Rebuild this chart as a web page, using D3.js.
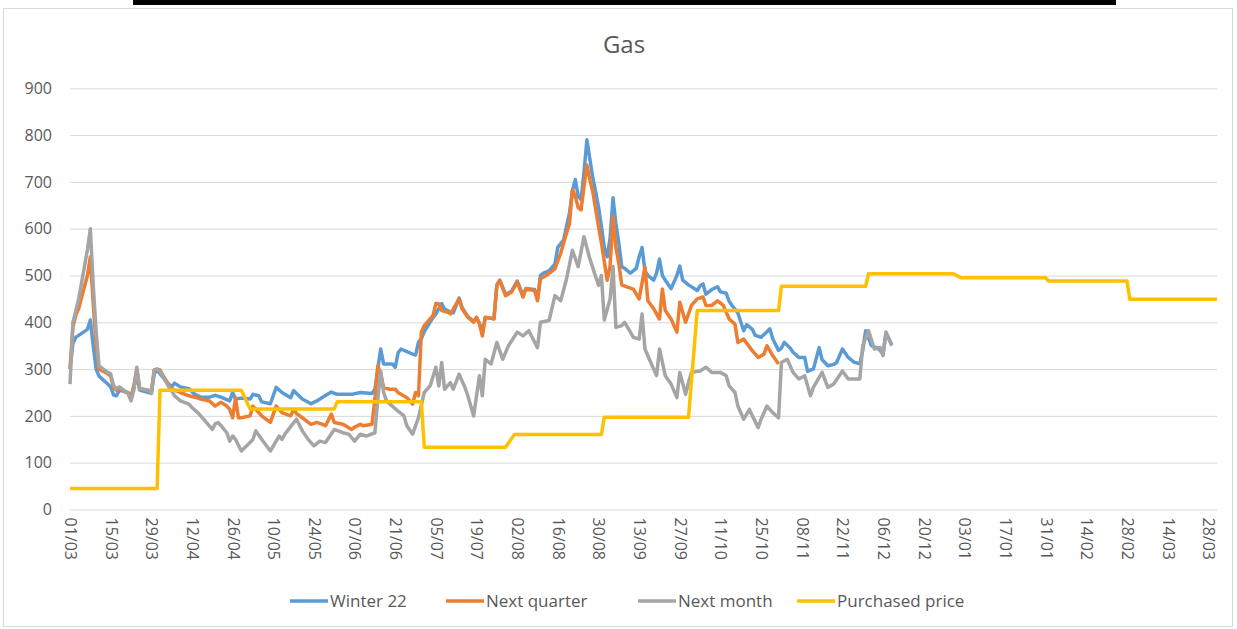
<!DOCTYPE html>
<html>
<head>
<meta charset="utf-8">
<script src="https://cdn.jsdelivr.net/npm/d3@7"></script>
<style>
  body { margin: 0; background: #fff; }
  text { font-family: "Open Sans", "Liberation Sans", sans-serif; fill: #595959; }
</style>
</head>
<body>
<div id="chart"></div>
<script>
// values, dates are dd/mm in 2022
const winter22 = [
  ["01/03",300],["02/03",355],["03/03",368],["04/03",372],["07/03",385],["08/03",405],["09/03",350],["10/03",300],["11/03",285],
  ["14/03",268],["15/03",262],["16/03",245],["17/03",243],["18/03",255],["21/03",250],["22/03",240],["23/03",262],["24/03",285],
  ["25/03",255],["28/03",250],["29/03",248],["30/03",290],["31/03",298],["01/04",290],["04/04",268],["05/04",262],["06/04",270],
  ["08/04",262],["11/04",258],["13/04",246],["15/04",240],["18/04",240],["20/04",244],["22/04",240],["25/04",232],["26/04",250],
  ["27/04",236],["29/04",238],["02/05",236],["03/05",246],["05/05",243],["06/05",230],["09/05",226],["11/05",261],["13/05",250],
  ["16/05",239],["17/05",254],["18/05",248],["20/05",236],["23/05",226],["25/05",232],["27/05",240],["30/05",251],["01/06",246],
  ["03/06",246],["06/06",246],["09/06",250],["13/06",248],["14/06",257],["15/06",300],["16/06",343],["17/06",311],["20/06",311],
  ["21/06",304],["22/06",335],["23/06",343],["27/06",332],["28/06",330],["29/06",357],["30/06",365],["01/07",380],["04/07",410],
  ["05/07",418],["07/07",440],["08/07",428],["10/07",422],["11/07",420],["13/07",452],["14/07",432],["16/07",412],["18/07",402],
  ["19/07",410],["20/07",398],["21/07",378],["22/07",410],["25/07",408],["26/07",480],["27/07",490],["29/07",460],["31/07",466],
  ["02/08",488],["04/08",458],["05/08",472],["08/08",470],["09/08",450],["10/08",500],["11/08",505],["13/08",510],["15/08",525],
  ["16/08",560],["17/08",568],["18/08",576],["19/08",605],["20/08",633],["21/08",680],["22/08",705],["23/08",670],["24/08",662],
  ["25/08",720],["26/08",790],["27/08",750],["28/08",710],["29/08",680],["30/08",647],["31/08",605],["01/09",560],["02/09",540],
  ["03/09",580],["04/09",666],["05/09",610],["06/09",569],["07/09",519],["08/09",515],["10/09",505],["12/09",515],["13/09",540],
  ["14/09",560],["15/09",510],["16/09",500],["18/09",490],["19/09",505],["20/09",535],["21/09",500],["22/09",490],["24/09",472],
  ["26/09",500],["27/09",520],["28/09",490],["30/09",480],["03/10",468],["04/10",478],["05/10",482],["06/10",460],["08/10",470],
  ["10/10",476],["11/10",465],["13/10",462],["14/10",445],["15/10",436],["17/10",420],["19/10",382],["20/10",395],["22/10",385],
  ["23/10",372],["25/10",368],["27/10",380],["28/10",386],["29/10",365],["31/10",340],["01/11",345],["02/11",357],["04/11",345],
  ["05/11",336],["07/11",325],["09/11",325],["10/11",295],["11/11",298],["12/11",300],["14/11",346],["15/11",320],["17/11",307],
  ["19/11",310],["20/11",314],["22/11",343],["24/11",325],["26/11",315],["28/11",311],["29/11",340],["30/11",382],["02/12",350],
  ["04/12",345],["05/12",340],["06/12",332],["07/12",378],["09/12",352]
];

const nextQuarter = [
  ["01/03",300],["02/03",390],["03/03",415],["04/03",430],["07/03",500],["08/03",540],["09/03",440],["10/03",350],["11/03",300],
  ["14/03",290],["15/03",285],["16/03",260],["17/03",255],["18/03",258],["21/03",248],["22/03",240],["23/03",265],["24/03",300],
  ["25/03",258],["28/03",255],["29/03",250],["30/03",298],["31/03",300],["01/04",298],["04/04",266],["05/04",258],["06/04",255],
  ["08/04",250],["11/04",243],["13/04",240],["15/04",236],["18/04",232],["20/04",221],["22/04",229],["24/04",221],["25/04",214],
  ["26/04",196],["27/04",239],["28/04",196],["29/04",196],["02/05",200],["03/05",221],["05/05",207],["06/05",200],["09/05",186],
  ["11/05",221],["13/05",207],["16/05",200],["17/05",214],["18/05",205],["20/05",196],["23/05",182],["25/05",186],["27/05",182],
  ["28/05",179],["30/05",204],["31/05",186],["03/06",182],["06/06",171],["07/06",176],["09/06",182],["10/06",179],["13/06",182],
  ["14/06",236],["15/06",307],["16/06",290],["17/06",261],["19/06",257],["21/06",257],["22/06",250],["25/06",239],["27/06",225],
  ["28/06",250],["29/06",243],["30/06",379],["01/07",393],["04/07",414],["05/07",440],["06/07",439],["07/07",425],["09/07",422],
  ["10/07",418],["13/07",450],["14/07",429],["16/07",411],["18/07",400],["19/07",411],["20/07",396],["21/07",371],["22/07",411],
  ["25/07",407],["26/07",479],["27/07",489],["29/07",457],["31/07",464],["02/08",486],["04/08",454],["05/08",471],["08/08",468],
  ["09/08",446],["10/08",493],["12/08",500],["15/08",514],["17/08",548],["19/08",591],["20/08",610],["21/08",683],["22/08",670],
  ["23/08",645],["24/08",640],["25/08",690],["26/08",736],["27/08",705],["28/08",680],["30/08",605],["31/08",570],["02/09",490],
  ["03/09",520],["04/09",626],["05/09",560],["06/09",526],["07/09",480],["09/09",475],["11/09",471],["13/09",450],["15/09",518],
  ["16/09",446],["18/09",429],["20/09",407],["21/09",471],["22/09",425],["24/09",407],["26/09",379],["27/09",443],["29/09",400],
  ["01/10",436],["03/10",450],["05/10",454],["06/10",436],["08/10",436],["10/10",446],["12/10",436],["14/10",407],["16/10",396],
  ["17/10",357],["19/10",364],["22/10",339],["24/10",325],["26/10",332],["27/10",350],["29/10",329],["31/10",311]
];

const nextMonth = [
  ["01/03",268],["02/03",400],["03/03",425],["04/03",450],["07/03",555],["08/03",600],["09/03",480],["10/03",380],["11/03",307],
  ["14/03",293],["15/03",290],["16/03",265],["17/03",258],["18/03",262],["21/03",248],["22/03",232],["23/03",255],["24/03",304],
  ["25/03",258],["28/03",255],["29/03",248],["30/03",298],["31/03",300],["01/04",296],["04/04",262],["05/04",254],["06/04",243],
  ["08/04",232],["11/04",225],["12/04",218],["14/04",207],["16/04",193],["19/04",171],["20/04",183],["21/04",186],["22/04",179],
  ["24/04",164],["25/04",146],["26/04",157],["27/04",150],["29/04",125],["02/05",143],["03/05",150],["04/05",168],["06/05",150],
  ["09/05",125],["12/05",157],["13/05",150],["14/05",161],["18/05",193],["20/05",168],["22/05",150],["24/05",136],["26/05",146],
  ["28/05",143],["31/05",171],["03/06",164],["05/06",161],["07/06",146],["09/06",161],["11/06",157],["14/06",164],["15/06",236],
  ["16/06",296],["17/06",250],["18/06",232],["20/06",221],["22/06",210],["24/06",200],["25/06",179],["27/06",161],["28/06",179],
  ["29/06",196],["01/07",250],["03/07",264],["05/07",304],["06/07",264],["07/07",314],["08/07",257],["10/07",271],["11/07",257],
  ["13/07",289],["15/07",261],["16/07",243],["18/07",200],["20/07",286],["21/07",243],["22/07",321],["24/07",311],["26/07",357],
  ["28/07",321],["30/07",350],["02/08",379],["04/08",371],["06/08",382],["09/08",346],["10/08",400],["13/08",404],["15/08",457],
  ["17/08",446],["19/08",493],["21/08",554],["23/08",519],["25/08",583],["27/08",536],["30/08",479],["31/08",500],["01/09",405],
  ["03/09",450],["04/09",519],["05/09",389],["07/09",393],["08/09",400],["10/09",379],["11/09",368],["13/09",364],["14/09",418],
  ["15/09",343],["17/09",314],["19/09",286],["20/09",343],["22/09",286],["24/09",268],["26/09",239],["27/09",293],["29/09",246],
  ["30/09",271],["01/10",293],["04/10",296],["06/10",304],["08/10",293],["11/10",293],["13/10",286],["14/10",264],["16/10",250],
  ["17/10",221],["19/10",193],["21/10",214],["22/10",200],["24/10",175],["25/10",193],["27/10",221],["29/10",207],["31/10",196],
  ["01/11",314],["03/11",321],["05/11",293],["07/11",279],["09/11",286],["11/11",243],["12/11",261],["15/11",293],["17/11",261],
  ["19/11",268],["22/11",296],["24/11",279],["28/11",279],["29/11",350],["01/12",382],["03/12",343],["05/12",346],["06/12",329],
  ["07/12",379],["09/12",350]
];

// purchased price per month, Mar 2022 to Mar 2023
const purchaseMonths = ["03/2022","04/2022","05/2022","06/2022","07/2022","08/2022","09/2022",
  "10/2022","11/2022","12/2022","01/2023","02/2023","03/2023"];
const purchasePrices = [45, 255, 215, 230, 133, 160, 197, 425, 477, 504, 495, 488, 449];

const yTicks = [0, 100, 200, 300, 400, 500, 600, 700, 800, 900];
const seriesNames = ["Winter 22", "Next quarter", "Next month", "Purchased price"];
const seriesColors = ["#5B9BD5", "#ED7D31", "#A5A5A5", "#FFC000"];

const width = 1237;
const height = 629;
const plot = { left: 70, right: 1217, top: 88.3, bottom: 509.5 };

const parseDay = d3.timeParse("%d/%m/%Y");
const parseMonth = d3.timeParse("%m/%Y");

const toPoints = (rows) => rows.map(([d, v]) => ({ date: parseDay(d + "/2022"), value: v }));

// each month's price holds from its first to its last weekday
const purchasePoints = [];
purchaseMonths.forEach((m, i) => {
    const start = parseMonth(m);
    const end = d3.timeMonth.offset(start, 1);
    const days = d3.timeDay.range(start, end).filter((d) => d.getDay() % 6 !== 0);
    purchasePoints.push({ date: days[0], value: purchasePrices[i] });
    purchasePoints.push({ date: days[days.length - 1], value: purchasePrices[i] });
});

const series = [toPoints(winter22), toPoints(nextQuarter), toPoints(nextMonth), purchasePoints];

const svg = d3.select("#chart").append("svg")
    .attr("width", width)
    .attr("height", height);

// chart frame and the cut-off line above it
svg.append("rect")
    .attr("x", 3.5).attr("y", 8.5)
    .attr("width", 1229).attr("height", 618)
    .attr("fill", "#fff")
    .attr("stroke", "#d9d9d9");
svg.append("rect")
    .attr("x", 133).attr("y", 0)
    .attr("width", 983).attr("height", 5)
    .attr("fill", "#000");

const xScale = d3.scaleTime()
    .domain([parseDay("01/03/2022"), parseDay("31/03/2023")])
    .range([plot.left, plot.right]);

const yScale = d3.scaleLinear()
    .domain([0, 900])
    .range([plot.bottom, plot.top]);

const yAxis = svg.append("g")
    .attr("transform", `translate(${plot.left},0)`)
    .call(d3.axisLeft(yScale).tickValues(yTicks).tickSize(-(plot.right - plot.left)).tickPadding(18));
yAxis.select(".domain").remove();
yAxis.selectAll("line").attr("stroke", "#d9d9d9");
yAxis.selectAll("text")
    .attr("font-size", 16)
    .attr("font-family", null)
    .attr("fill", null);

const xTicks = d3.timeDay.range(parseDay("01/03/2022"), parseDay("29/03/2023"), 14);
const xAxis = svg.append("g")
    .attr("transform", `translate(0,${plot.bottom})`)
    .call(d3.axisBottom(xScale).tickValues(xTicks).tickFormat(d3.timeFormat("%d/%m")).tickSize(0));
xAxis.select(".domain").remove();
xAxis.selectAll("text")
    .attr("font-size", 16)
    .attr("font-family", null)
    .attr("fill", null)
    .attr("text-anchor", "start")
    .attr("transform", "rotate(90)")
    .attr("x", 8)
    .attr("y", 0)
    .attr("dy", "0.35em");

const line = d3.line()
    .x((d) => xScale(d.date))
    .y((d) => yScale(d.value));

series.forEach((pts, i) => {
    svg.append("path")
        .datum(pts)
        .attr("fill", "none")
        .attr("stroke", seriesColors[i])
        .attr("stroke-width", 3.5)
        .attr("stroke-linejoin", "round")
        .attr("d", line);
});

svg.append("text")
    .attr("x", 624)
    .attr("y", 53)
    .attr("text-anchor", "middle")
    .attr("font-size", 24)
    .text("Gas");

// legend
const legendX = [290, 446, 638, 797];
const legend = svg.append("g").attr("transform", "translate(0,601)");
seriesNames.forEach((name, i) => {
    legend.append("line")
        .attr("x1", legendX[i]).attr("x2", legendX[i] + 38)
        .attr("y1", 0).attr("y2", 0)
        .attr("stroke", seriesColors[i])
        .attr("stroke-width", 3.5);
    legend.append("text")
        .attr("x", legendX[i] + 40)
        .attr("y", 0)
        .attr("dy", "0.35em")
        .attr("font-size", 17)
        .text(name);
});
</script>
</body>
</html>
